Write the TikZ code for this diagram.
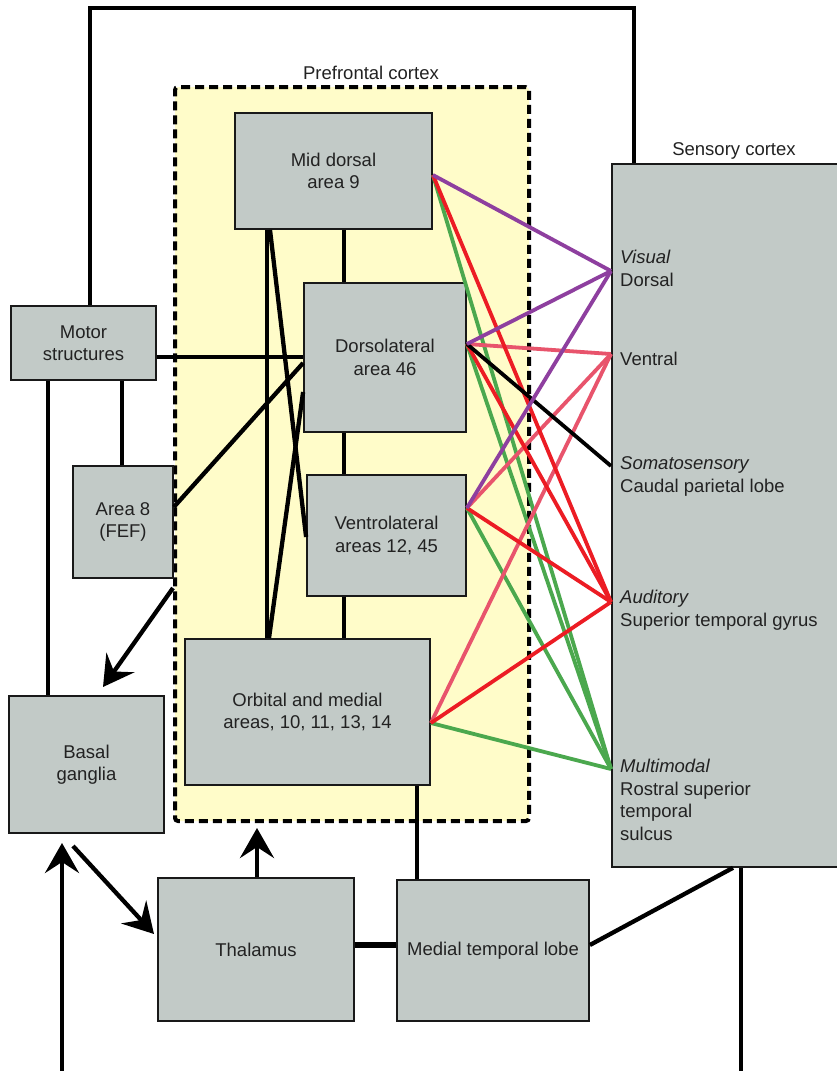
\documentclass[tikz,border=0pt]{standalone}
\usepackage{fontspec}
\setmainfont{Liberation Sans}
\usetikzlibrary{arrows.meta}
\definecolor{boxgray}{HTML}{C2CAC7}
\definecolor{pfyellow}{HTML}{FFFCC9}
\definecolor{txt}{HTML}{222222}
\definecolor{cpurple}{HTML}{8E3F9F}
\definecolor{cred}{HTML}{EC1C24}
\definecolor{cpink}{HTML}{E8546C}
\definecolor{cgreen}{HTML}{4BA84E}
\begin{document}
\begin{tikzpicture}[x=1pt,y=-1pt,
  box/.style={draw=black!90,line width=1.8pt,fill=boxgray,inner sep=0pt,align=center,
    text=txt,font=\fontsize{18.5}{22.5}\selectfont},
  lbl/.style={inner sep=0pt,text=txt,font=\fontsize{18.5}{22.5}\selectfont},
  conn/.style={line width=4.3pt,black},
  link/.style={line width=3.8pt},
  bigarrow/.style={conn,-{Stealth[length=30pt,width=34pt,inset=11pt]}}]
\useasboundingbox (0,0) rectangle (836,1071);
\fill[white] (0,0) rectangle (836,1071);

% prefrontal region
\node[draw=black,fill=pfyellow,line width=4pt,dash pattern=on 9pt off 5pt,
      rounded corners=3pt,minimum width=354pt,minimum height=734pt,inner sep=0pt] (pf) at (352,454) {};
\node[lbl,anchor=base] (pflabel) at (371,79) {Prefrontal cortex};
\node[lbl,anchor=base] (sclabel) at (734,155) {Sensory cortex};

% boxes
\node[box,minimum width=197pt,minimum height=116pt] (md) at (333.5,171) {Mid dorsal\\area 9};
\node[box,minimum width=162pt,minimum height=149pt] (dl) at (385,357.5) {Dorsolateral\\area 46};
\node[box,minimum width=159pt,minimum height=121pt] (vl) at (386.5,535.5) {Ventrolateral\\areas 12, 45};
\node[box,minimum width=245pt,minimum height=146pt] (om) at (307.5,712) {Orbital and medial\\areas, 10, 11, 13, 14};
\node[box,minimum width=145pt,minimum height=74pt] (ms) at (83.5,343) {Motor\\structures};
\node[box,minimum width=100pt,minimum height=112pt] (a8) at (123,522) {Area 8\\(FEF)};
\node[box,minimum width=155pt,minimum height=137pt] (bg) at (86.5,764.5) {Basal\\ganglia};
\node[box,minimum width=196pt,minimum height=143pt] (th) at (256,949.5) {Thalamus};
\node[box,minimum width=192pt,minimum height=141pt] (mt) at (493,950.5) {Medial temporal lobe};
\node[box,minimum width=235pt,minimum height=703pt,anchor=north west] (sc) at (611,163) {};

% sensory labels
\node[lbl,anchor=base west] (s1) at (620,263) {\itshape Visual};
\node[lbl,anchor=base west] (s2) at (620,286) {Dorsal};
\node[lbl,anchor=base west] (s3) at (620,365) {Ventral};
\node[lbl,anchor=base west] (s4) at (620,469) {\itshape Somatosensory};
\node[lbl,anchor=base west] (s5) at (620,492) {Caudal parietal lobe};
\node[lbl,anchor=base west] (s6) at (620,603) {\itshape Auditory};
\node[lbl,anchor=base west] (s7) at (620,626) {Superior temporal gyrus};
\node[lbl,anchor=base west] (s8) at (620,772) {\itshape Multimodal};
\node[lbl,anchor=base west] (s9) at (620,795) {Rostral superior};
\node[lbl,anchor=base west] (s10) at (620,817) {temporal};
\node[lbl,anchor=base west] (s11) at (620,840) {sulcus};

% black connectors
\draw[conn,line join=miter] (ms.north -| 90,0) |- (634,8) -- (sc.north -| 634,0);
\draw[conn] (ms.south -| 48,0) -- (bg.north -| 48,0);
\draw[conn] (ms.south -| 122,0) -- (a8.north -| 122,0);
\draw[conn] (ms.east |- 0,357) -- (dl.west |- 0,357);
\draw[conn] (a8.east |- 0,507) -- (dl.west |- 0,363);
\draw[conn] (md.south -| 267,0) -- (om.north -| 267,0);
\draw[conn] (md.south -| 270,0) -- (vl.west |- 0,537);
\draw[conn] (om.north -| 269,0) -- (dl.west |- 0,392);
\draw[conn] (md.south -| 344,0) -- (dl.north -| 344,0);
\draw[conn] (dl.south -| 344,0) -- (vl.north -| 344,0);
\draw[conn] (vl.south -| 344,0) -- (om.north -| 344,0);
\draw[conn] (om.south -| 417,0) -- (mt.north -| 417,0);
\draw[conn,line width=5.5pt] (th.east |- 0,945) -- (mt.west |- 0,945);
\draw[conn] (mt.east |- 0,945) -- (sc.south -| 733,0);
\coordinate (botR) at (741,1071);
\draw[conn] (sc.south -| 741,0) -- (botR);

% arrows
\coordinate (bgin) at (103,687);
\draw[bigarrow] (pf.west |- 0,588) -- (bgin);
\coordinate (bgout) at (73,846);
\coordinate (thin) at (154,934);
\draw[bigarrow] (bgout) -- (thin);
\coordinate (botL) at (62,1071);
\coordinate (bgup) at (62,843);
\draw[bigarrow] (botL) -- (bgup);
\draw[bigarrow,shorten >=5pt] (th.north -| 257,0) -- (pf.south -| 257,0);

% coloured projections
\coordinate (mdR) at (md.east |- 0,175);
\coordinate (dlR) at (dl.east |- 0,344);
\coordinate (vlR) at (vl.east |- 0,508);
\coordinate (omR) at (om.east |- 0,723);
\coordinate (tDor) at (sc.west |- 0,271);
\coordinate (tVen) at (sc.west |- 0,354);
\coordinate (tSom) at (sc.west |- 0,466);
\coordinate (tAud) at (sc.west |- 0,602);
\coordinate (tMul) at (sc.west |- 0,769);

\draw[link,cgreen] (mdR) -- (tMul);
\draw[link,cgreen] (dlR) -- (tMul);
\draw[link,cgreen] (vlR) -- (tMul);
\draw[link,cgreen] (omR) -- (tMul);
\draw[link,cpink] (dlR) -- (tVen);
\draw[link,cpink] (vlR) -- (tVen);
\draw[link,cpink] (omR) -- (tVen);
\draw[link,cred] (mdR) -- (tAud);
\draw[link,cred] (dlR) -- (tAud);
\draw[link,cred] (vlR) -- (tAud);
\draw[link,cred] (omR) -- (tAud);
\draw[link,black] (dlR) -- (tSom);
\draw[link,cpurple] (mdR) -- (tDor);
\draw[link,cpurple] (dlR) -- (tDor);
\draw[link,cpurple] (vlR) -- (tDor);
\end{tikzpicture}
\end{document}
